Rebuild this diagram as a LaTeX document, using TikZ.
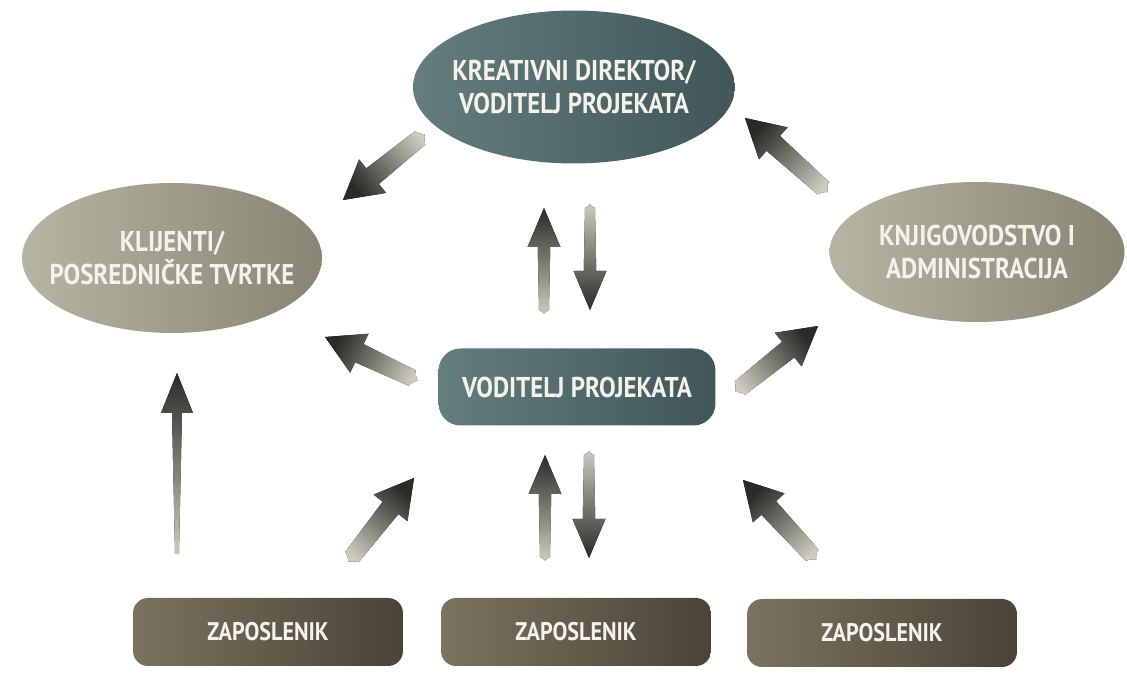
\documentclass[tikz,border=0pt]{standalone}
\usepackage{fontspec}
\newfontfamily\lblfont[FakeStretch=0.87]{PT Sans}
\usetikzlibrary{shapes.geometric,calc}
\definecolor{slateL}{HTML}{647E7C}
\definecolor{slateR}{HTML}{405659}
\definecolor{oliveL}{HTML}{B6B5A3}
\definecolor{oliveR}{HTML}{878674}
\definecolor{brownL}{HTML}{7B7260}
\definecolor{brownR}{HTML}{4B4337}
\definecolor{lbltext}{HTML}{F3F2EB}
\definecolor{tipc}{HTML}{2A2A27}
\definecolor{midc}{HTML}{5E5D54}
\definecolor{tailc}{HTML}{CDCCBE}
\tikzset{
  lead/.style   = {ellipse, inner sep=-12pt, left color=slateL, right color=slateR, text=lbltext,
                   font=\lblfont\bfseries\fontsize{16.3}{19}\selectfont, align=center},
  side/.style   = {ellipse, inner sep=-12pt, left color=oliveL, right color=oliveR, text=lbltext,
                   font=\lblfont\bfseries\fontsize{16.3}{19}\selectfont, align=center},
  pm/.style     = {rectangle, rounded corners=4.4mm, left color=slateL, right color=slateR,
                   text=lbltext, font=\lblfont\bfseries\fontsize{16.3}{19}\selectfont,
                   minimum width=5.54cm, minimum height=1.54cm},
  worker/.style = {rectangle, rounded corners=3mm, left color=brownL, right color=brownR,
                   text=lbltext, font=\lblfont\bfseries\fontsize{14.5}{17}\selectfont,
                   minimum width=5.4cm, minimum height=1.36cm},
  arrowshade/.style = {shading=axis, top color=tipc, middle color=midc, bottom color=tailc},
}
% fat fading arrow from tail #2 to tip #3, sizes can be reset in #1
\newcommand{\fatarrow}[3][]{%
  \begingroup
  \def\tw{1.7mm}\def\sw{2mm}\def\hw{4.3mm}\def\hl{7.6mm}#1%
  \pgfmathanglebetweenpoints{\pgfpointanchor{#2}{center}}{\pgfpointanchor{#3}{center}}%
  \pgfmathsetmacro\arrshang{\pgfmathresult-90}%
  \coordinate (fa-hb) at ($(#3)!\hl!(#2)$);
  \coordinate (fa-t)  at ($(#2)!-\tw!(#3)$);
  \fill[arrowshade, shading angle=\arrshang]
    ($(#2)!\tw!90:(#3)$) -- ($(fa-hb)!\sw!90:(#3)$) -- ($(fa-hb)!\hw!90:(#3)$)
    -- (#3) -- ($(fa-hb)!\hw!-90:(#3)$) -- ($(fa-hb)!\sw!-90:(#3)$)
    -- ($(#2)!\tw!-90:(#3)$)
    .. controls ($(fa-t)!\tw!90:(#2)$) and ($(fa-t)!\tw!-90:(#2)$) .. cycle;
  \endgroup}

\begin{document}
\begin{tikzpicture}[x=0.02cm, y=0.02cm]

  \useasboundingbox (0,0) rectangle (1127,682);

  % roles
  \node[lead, minimum width=6.44cm, minimum height=3.06cm] (kd) at (574,595)
    {KREATIVNI DIREKTOR/\\VODITELJ PROJEKATA};
  \node[side, minimum width=6cm, minimum height=3cm] (kl) at (172,424)
    {KLIJENTI/\\POSREDNIČKE TVRTKE};
  \node[side, minimum width=5.9cm, minimum height=2.8cm] (ka) at (977,430)
    {KNJIGOVODSTVO I\\ADMINISTRACIJA};
  \node[pm] (vp) at (577,295) {VODITELJ PROJEKATA};

  % employees
  \node[worker] (z1) at (268,50) {ZAPOSLENIK};
  \node[worker] (z2) at (576,50) {ZAPOSLENIK};
  \node[worker] (z3) at (882,49) {ZAPOSLENIK};

  % arrow ends
  \coordinate (kdkl-a) at (420,544);  \coordinate (kdkl-b) at (343,482);
  \coordinate (kakd-a) at (823,494);  \coordinate (kakd-b) at (745,564);
  \coordinate (vpkd-a) at (544,372);  \coordinate (vpkd-b) at (544,474);
  \coordinate (kdvp-a) at (590,474);  \coordinate (kdvp-b) at (590,372);
  \coordinate (vpkl-a) at (412,304);  \coordinate (vpkl-b) at (325,345);
  \coordinate (vpka-a) at (740,294);  \coordinate (vpka-b) at (818,356);
  \coordinate (z1kl-a) at (177,129);  \coordinate (z1kl-b) at (177,309);
  \coordinate (z1vp-a) at (352,125);  \coordinate (z1vp-b) at (414,204);
  \coordinate (z2vp-a) at (545,125);  \coordinate (z2vp-b) at (545,227);
  \coordinate (vpz2-a) at (589,227);  \coordinate (vpz2-b) at (589,124);
  \coordinate (z3vp-a) at (812,127);  \coordinate (z3vp-b) at (743,202);

  % arrows
  \fatarrow{kdkl-a}{kdkl-b}
  \fatarrow{kakd-a}{kakd-b}
  \fatarrow[\def\tw{1mm}\def\sw{1.25mm}\def\hw{3.3mm}\def\hl{7.8mm}]{vpkd-a}{vpkd-b}
  \fatarrow[\def\tw{1mm}\def\sw{1.25mm}\def\hw{3.3mm}\def\hl{7.8mm}]{kdvp-a}{kdvp-b}
  \fatarrow{vpkl-a}{vpkl-b}
  \fatarrow{vpka-a}{vpka-b}
  \fatarrow[\def\tw{0.4mm}\def\sw{1mm}\def\hw{3.2mm}\def\hl{8mm}]{z1kl-a}{z1kl-b}
  \fatarrow{z1vp-a}{z1vp-b}
  \fatarrow[\def\tw{1mm}\def\sw{1.25mm}\def\hw{3.3mm}\def\hl{7.8mm}]{z2vp-a}{z2vp-b}
  \fatarrow[\def\tw{1mm}\def\sw{1.25mm}\def\hw{3.3mm}\def\hl{7.8mm}]{vpz2-a}{vpz2-b}
  \fatarrow{z3vp-a}{z3vp-b}

\end{tikzpicture}
\end{document}
